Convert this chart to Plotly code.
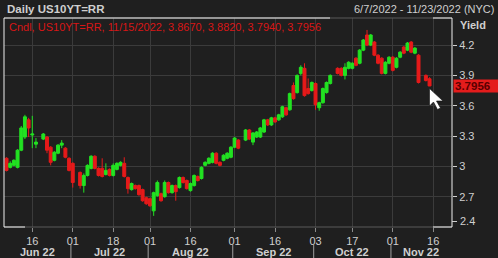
import math
import pandas as pd
import plotly.graph_objects as go

# ---------------- data ----------------
holidays = ["2022-06-20", "2022-07-04", "2022-09-05", "2022-10-10", "2022-11-11"]
trade_days = [d for d in pd.bdate_range("2022-06-07", "2022-11-15") if d.strftime("%Y-%m-%d") not in holidays]
dates = [d.strftime("%Y-%m-%d") for d in trade_days]

opens = [3.08, 2.99, 3.01, 2.99, 3.16, 3.29, 3.46, 3.31, 3.22, 3.27,
         3.29, 3.19, 3.06, 3.13, 3.21, 3.18, 3.08, 3.03, 2.94, 2.81,
         2.91, 2.98, 3.10, 2.98, 2.98, 2.92, 2.97, 2.91, 2.97, 3.01,
         3.03, 2.89, 2.77, 2.81, 2.81, 2.77, 2.69, 2.68, 2.56, 2.71,
         2.73, 2.70, 2.84, 2.74, 2.81, 2.79, 2.89, 2.86, 2.76, 2.81,
         2.90, 2.88, 3.01, 3.03, 3.04, 3.13, 3.04, 3.06, 3.08, 3.09,
         3.19, 3.26, 3.26, 3.36, 3.24, 3.29, 3.29, 3.34, 3.46, 3.41,
         3.48, 3.46, 3.49, 3.58, 3.56, 3.80, 3.73, 3.92, 3.97, 3.77,
         3.75, 3.82, 3.58, 3.63, 3.73, 3.82, 3.97, 3.97, 3.90, 3.97,
         3.97, 4.07, 4.02, 4.15, 4.30, 4.20, 4.23, 4.10, 4.07, 3.92,
         4.02, 4.08, 3.98, 4.08, 4.18, 4.15, 4.23, 4.12, 4.10, 3.90,
         3.867]
highs = [3.09, 3.05, 3.07, 3.17, 3.40, 3.51, 3.48, 3.50, 3.28, 3.33,
         3.30, 3.20, 3.15, 3.22, 3.26, 3.19, 3.09, 3.04, 2.95, 2.93,
         3.02, 3.11, 3.11, 2.99, 3.08, 3.03, 2.98, 3.03, 3.04, 3.05,
         3.09, 2.90, 2.84, 2.82, 2.82, 2.78, 2.70, 2.69, 2.75, 2.86,
         2.74, 2.86, 2.85, 2.82, 2.82, 2.90, 2.90, 2.87, 2.84, 2.92,
         2.91, 3.00, 3.05, 3.09, 3.14, 3.14, 3.05, 3.12, 3.14, 3.20,
         3.29, 3.27, 3.37, 3.37, 3.34, 3.35, 3.39, 3.47, 3.47, 3.49,
         3.49, 3.52, 3.60, 3.59, 3.73, 3.83, 3.91, 4.00, 4.02, 3.87,
         3.84, 3.83, 3.64, 3.78, 3.84, 3.91, 3.98, 3.98, 4.02, 4.04,
         4.03, 4.08, 4.16, 4.26, 4.35, 4.31, 4.24, 4.11, 4.08, 4.04,
         4.09, 4.09, 4.08, 4.14, 4.19, 4.23, 4.24, 4.18, 4.11, 3.91,
         3.882]
lows = [2.95, 2.98, 3.00, 2.98, 3.15, 3.27, 3.29, 3.18, 3.18, 3.26,
        3.13, 3.01, 3.05, 3.12, 3.18, 3.08, 2.95, 2.79, 2.78, 2.74,
        2.90, 2.97, 2.97, 2.90, 2.89, 2.91, 2.90, 2.90, 2.96, 3.00,
        2.89, 2.73, 2.76, 2.77, 2.71, 2.65, 2.62, 2.60, 2.51, 2.70,
        2.65, 2.69, 2.73, 2.73, 2.66, 2.78, 2.83, 2.77, 2.75, 2.80,
        2.85, 2.87, 3.00, 3.02, 3.03, 3.02, 3.00, 3.05, 3.07, 3.08,
        3.18, 3.17, 3.25, 3.26, 3.21, 3.28, 3.28, 3.33, 3.40, 3.40,
        3.43, 3.45, 3.48, 3.50, 3.55, 3.66, 3.72, 3.90, 3.69, 3.71,
        3.74, 3.56, 3.55, 3.62, 3.72, 3.81, 3.91, 3.89, 3.86, 3.96,
        3.96, 3.99, 4.01, 4.14, 4.19, 4.19, 4.09, 4.01, 3.91, 3.91,
        4.01, 3.94, 3.97, 4.07, 4.11, 4.14, 4.12, 4.11, 3.82, 3.84,
        3.794]
closes = [2.96, 3.03, 3.06, 3.16, 3.38, 3.49, 3.38, 3.32, 3.24, 3.32,
          3.16, 3.04, 3.14, 3.21, 3.23, 3.09, 2.96, 2.84, 2.81, 2.91,
          3.01, 3.10, 2.98, 2.91, 2.90, 2.96, 2.91, 3.01, 3.03, 3.04,
          2.90, 2.78, 2.83, 2.78, 2.72, 2.66, 2.63, 2.61, 2.74, 2.84,
          2.66, 2.84, 2.74, 2.81, 2.75, 2.89, 2.84, 2.78, 2.83, 2.91,
          2.86, 2.99, 3.04, 3.08, 3.13, 3.03, 3.01, 3.11, 3.13, 3.19,
          3.28, 3.18, 3.36, 3.27, 3.33, 3.34, 3.38, 3.46, 3.41, 3.48,
          3.44, 3.51, 3.59, 3.51, 3.72, 3.67, 3.90, 3.98, 3.70, 3.72,
          3.83, 3.61, 3.63, 3.77, 3.83, 3.90, 3.92, 3.90, 3.98, 4.03,
          4.02, 4.00, 4.15, 4.25, 4.20, 4.30, 4.10, 4.02, 3.92, 4.03,
          4.08, 3.95, 4.07, 4.13, 4.12, 4.22, 4.13, 4.17, 3.83, 3.85,
          3.7956]

x_tick_dates = ["2022-06-16", "2022-07-01", "2022-07-18", "2022-08-01", "2022-08-16", "2022-09-01",
                "2022-09-16", "2022-10-03", "2022-10-17", "2022-11-01", "2022-11-16"]
x_tick_text = ["16", "01", "18", "01", "16", "01", "16", "03", "17", "01", "16"]
month_labels = ["Jun 22", "Jul 22", "Aug 22", "Sep 22", "Oct 22", "Nov 22"]
y_tick_vals = [2.7, 3.0, 3.3, 3.6, 3.9, 4.2]
y_tick_text = ["2.7", "3", "3.3", "3.6", "3.9", "4.2"]

title_text = "Daily US10YT=RR"
range_text = "6/7/2022 - 11/23/2022 (NYC)"
legend_text = "Cndl, US10YT=RR, 11/15/2022, 3.8670, 3.8820, 3.7940, 3.7956"
last_value = 3.7956

# ---------------- styling ----------------
BG = "#1f1f1f"
GRID = "#3b3b3b"
TXT = "#cfcfcf"
GREEN = "#22e222"
RED = "#e61a1a"
FONT = "Liberation Sans, Arial, sans-serif"

W, H = 498, 258
ML, MR, MT, MB = 4, 46, 18, 31
PW, PH = W - ML - MR, H - MT - MB

axis_days = pd.bdate_range("2022-06-07", "2022-11-23")
RANGE_LO, RANGE_HI = -0.69, 121.1


def idx_to_date(c):
    i = int(math.floor(c))
    i = max(0, min(i, len(axis_days) - 1))
    return (axis_days[i] + pd.Timedelta(days=c - i)).strftime("%Y-%m-%d %H:%M:%S")


def px_x(px):
    return (px - ML) / PW


def px_y(py):
    return (H - MB - py) / PH


fig = go.Figure(go.Candlestick(
    x=dates, open=opens, high=highs, low=lows, close=closes,
    increasing=dict(line=dict(color=GREEN, width=1), fillcolor=GREEN),
    decreasing=dict(line=dict(color=RED, width=1), fillcolor=RED),
    whiskerwidth=0, hoverinfo="skip", showlegend=False,
))

annotations = []
shapes = []

# month labels and separators
month_keys = sorted(set((d.year, d.month) for d in axis_days))
for k, (yy, mm) in enumerate(month_keys):
    idxs = [i for i, d in enumerate(axis_days) if (d.year, d.month) == (yy, mm)]
    lo = max(idxs[0] - 0.5, RANGE_LO)
    hi = min(idxs[-1] + 0.5, RANGE_HI)
    annotations.append(dict(x=idx_to_date((lo + hi) / 2), y=px_y(252), xref="x", yref="paper",
                            text="<b>%s</b>" % month_labels[k], showarrow=False,
                            xanchor="center", yanchor="middle",
                            font=dict(family=FONT, size=11, color=TXT)))
    if idxs[0] > 0:
        sx = idx_to_date(idxs[0] - 0.5)
        shapes.append(dict(type="line", xref="x", yref="paper", x0=sx, x1=sx,
                           y0=px_y(245), y1=px_y(258), line=dict(color="#a0a0a0", width=1)))

# header texts
annotations += [
    dict(x=px_x(5), y=px_y(9), xref="paper", yref="paper", text="<b>%s</b>" % title_text,
         showarrow=False, xanchor="left", yanchor="middle",
         font=dict(family=FONT, size=11.5, color=TXT)),
    dict(x=px_x(496), y=px_y(9), xref="paper", yref="paper", text=range_text,
         showarrow=False, xanchor="right", yanchor="middle",
         font=dict(family=FONT, size=11, color=TXT)),
    dict(x=px_x(458), y=px_y(25), xref="paper", yref="paper", text="<b>Yield</b>",
         showarrow=False, xanchor="left", yanchor="middle",
         font=dict(family=FONT, size=11, color=TXT)),
    dict(x=px_x(7), y=px_y(27), xref="paper", yref="paper", text=legend_text,
         showarrow=False, xanchor="left", yanchor="middle",
         font=dict(family=FONT, size=11, color="#d81616")),
    dict(x=1, y=last_value, xref="paper", yref="y", text="<b>%.4f</b>" % last_value,
         showarrow=False, xanchor="left", yanchor="middle", xshift=1,
         bgcolor="#e41c1c", width=43, height=10, borderpad=1, align="left",
         font=dict(family=FONT, size=11.5, color="#5a0000")),
    dict(x=1, y=2.4, xref="paper", yref="y", text="2.4", showarrow=False,
         xanchor="left", yanchor="middle", xshift=6, yshift=6,
         font=dict(family=FONT, size=11, color=TXT)),
]

# frame
shapes += [
    dict(type="line", xref="paper", yref="paper", x0=0, x1=1, y0=0, y1=0, line=dict(color="#5a5a5a", width=1)),
    dict(type="line", xref="paper", yref="paper", x0=0, x1=1, y0=1, y1=1, line=dict(color="#5a5a5a", width=1)),
    dict(type="line", xref="paper", yref="paper", x0=0, x1=px_x(330), y0=1, y1=1, line=dict(color="#f0f0f0", width=1)),
    dict(type="line", xref="paper", yref="paper", x0=px_x(433), x1=1, y0=1, y1=1, line=dict(color="#f0f0f0", width=1)),
    dict(type="line", xref="paper", yref="paper", x0=0, x1=px_x(25), y0=0, y1=0, line=dict(color="#f0f0f0", width=1)),
    dict(type="line", xref="paper", yref="paper", x0=px_x(433), x1=1, y0=0, y1=0, line=dict(color="#f0f0f0", width=1)),
    dict(type="line", xref="paper", yref="paper", x0=0, x1=0, y0=0, y1=1, line=dict(color="#f0f0f0", width=1)),
    dict(type="line", xref="paper", yref="paper", x0=1, x1=1, y0=0, y1=1, line=dict(color="#f0f0f0", width=1)),
    dict(type="line", xref="paper", yref="paper", x0=1, x1=px_x(457), y0=px_y(221.5), y1=px_y(221.5),
         line=dict(color=TXT, width=1)),
]

# mouse cursor
cur = [(429.5, 88.5), (429.5, 106), (433.5, 102), (437.5, 109.5), (440.5, 108), (436.5, 101), (443, 101)]
path = "M " + " L ".join("%.4f,%.4f" % (px_x(a), px_y(b)) for a, b in cur) + " Z"
shapes.append(dict(type="path", xref="paper", yref="paper", path=path,
                   fillcolor="#ffffff", line=dict(color="#111111", width=0.6)))

fig.update_layout(
    width=W, height=H, margin=dict(l=ML, r=MR, t=MT, b=MB, pad=0),
    paper_bgcolor=BG, plot_bgcolor=BG,
    font=dict(family=FONT, size=11, color=TXT),
    showlegend=False, boxgap=0.2, boxgroupgap=0,
    annotations=annotations, shapes=shapes,
    xaxis=dict(
        type="date", range=[idx_to_date(RANGE_LO), idx_to_date(RANGE_HI)],
        rangebreaks=[dict(bounds=["sat", "mon"])],
        rangeslider=dict(visible=False),
        tickmode="array", tickvals=x_tick_dates, ticktext=x_tick_text,
        ticks="outside", ticklen=4, tickcolor="#8a8a8a", tickwidth=1,
        tickfont=dict(family=FONT, size=11, color=TXT),
        showgrid=True, gridcolor=GRID, gridwidth=1,
        zeroline=False, showline=False, fixedrange=True,
    ),
    yaxis=dict(
        side="right", range=[2.4, 4.468],
        tickmode="array", tickvals=y_tick_vals, ticktext=y_tick_text,
        ticks="outside", ticklen=4, tickcolor=TXT, tickwidth=1,
        tickfont=dict(family=FONT, size=11, color=TXT),
        showgrid=True, gridcolor=GRID, gridwidth=1,
        zeroline=False, showline=False, fixedrange=True,
    ),
)

fig.write_html("out.html", config={"displayModeBar": False, "staticPlot": True})
